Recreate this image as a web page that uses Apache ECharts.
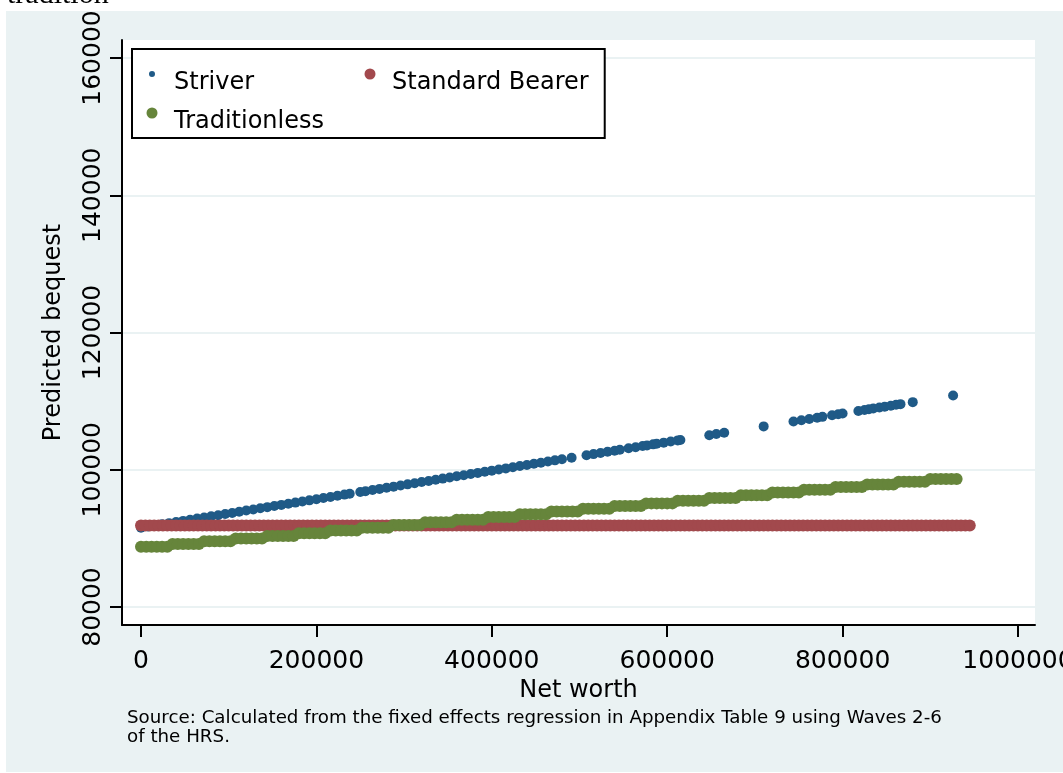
<!DOCTYPE html>
<html>
<head>
<meta charset="utf-8">
<script src="https://cdn.jsdelivr.net/npm/echarts@6/dist/echarts.min.js"></script>
<style>
html, body { margin: 0; padding: 0; background: #fff; }
#main { width: 1063px; height: 773px; }
</style>
</head>
<body>
<div id="main"></div>
<script>
// tick labels
var xTicks = [0, 200000, 400000, 600000, 800000, 1000000];
var yTicks = [80000, 100000, 120000, 140000, 160000];

// Striver
var striverX = [0, 8000, 16000, 24000, 32000, 40000, 48000, 56000, 64000, 72000,
  80000, 88000, 96000, 104000, 112000, 120000, 128000, 136000, 144000, 152000,
  160000, 168000, 176000, 184000, 192000, 200000, 208000, 216000, 224000, 232000,
  238000, 250000,
  256000, 264000, 272000, 280000, 288000, 296000, 304000, 312000, 320000, 328000,
  336000, 344000, 352000, 360000, 368000, 376000, 384000, 392000, 400000, 408000,
  416000, 424000, 432000, 440000, 448000, 456000, 464000, 472000, 480000,
  491000, 508000, 516000, 524000, 532000, 540000, 546000, 556000, 564000, 572000, 577000,
  584000, 588000, 596000, 604000, 612000, 615000, 648000, 656000, 665000, 710000,
  744000, 753000, 762000, 771000, 777000, 788000, 795000, 800000, 818000, 825000,
  830000, 835000, 842000, 848000, 855000, 861000, 866000, 880000, 926000];
var striverY = [91550, 91720, 91880, 92050, 92220, 92380, 92550, 92710, 92880, 93050,
  93210, 93380, 93550, 93710, 93880, 94050, 94210, 94380, 94550, 94710,
  94880, 95040, 95210, 95380, 95540, 95710, 95880, 96040, 96210, 96380,
  96500, 96750,
  96870, 97040, 97210, 97370, 97540, 97710, 97870, 98040, 98210, 98370,
  98540, 98710, 98870, 99040, 99200, 99370, 99540, 99700, 99870, 100040,
  100200, 100370, 100540, 100700, 100870, 101030, 101200, 101370, 101530,
  101760, 102120, 102280, 102450, 102620, 102780, 102910, 103120, 103280, 103450, 103550,
  103700, 103780, 103950, 104110, 104280, 104340, 105030, 105200, 105380, 106320,
  107030, 107210, 107400, 107590, 107710, 107940, 108090, 108190, 108560, 108710,
  108810, 108920, 109060, 109190, 109330, 109460, 109560, 109850, 110810];

// Standard Bearer (flat)
var bearerX = [0, 5000, 10000, 15000, 20000, 25000, 30000, 35000, 40000, 45000,
  50000, 55000, 60000, 65000, 70000, 75000, 80000, 85000, 90000, 95000,
  100000, 105000, 110000, 115000, 120000, 125000, 130000, 135000, 140000, 145000,
  150000, 155000, 160000, 165000, 170000, 175000, 180000, 185000, 190000, 195000,
  200000, 205000, 210000, 215000, 220000, 225000, 230000, 235000, 240000, 245000,
  250000, 255000, 260000, 265000, 270000, 275000, 280000, 285000, 290000, 295000,
  300000, 305000, 310000, 315000, 320000, 325000, 330000, 335000, 340000, 345000,
  350000, 355000, 360000, 365000, 370000, 375000, 380000, 385000, 390000, 395000,
  400000, 405000, 410000, 415000, 420000, 425000, 430000, 435000, 440000, 445000,
  450000, 455000, 460000, 465000, 470000, 475000, 480000, 485000, 490000, 495000,
  500000, 505000, 510000, 515000, 520000, 525000, 530000, 535000, 540000, 545000,
  550000, 555000, 560000, 565000, 570000, 575000, 580000, 585000, 590000, 595000,
  600000, 605000, 610000, 615000, 620000, 625000, 630000, 635000, 640000, 645000,
  650000, 655000, 660000, 665000, 670000, 675000, 680000, 685000, 690000, 695000,
  700000, 705000, 710000, 715000, 720000, 725000, 730000, 735000, 740000, 745000,
  750000, 755000, 760000, 765000, 770000, 775000, 780000, 785000, 790000, 795000,
  800000, 805000, 810000, 815000, 820000, 825000, 830000, 835000, 840000, 845000,
  850000, 855000, 860000, 865000, 870000, 875000, 880000, 885000, 890000, 895000,
  900000, 905000, 910000, 915000, 920000, 925000, 930000, 935000, 940000, 945000];
var bearerY = 91880;

// Traditionless (steps of ~36000 in net worth)
var tradX = [0, 6000, 12000, 18000, 24000, 30000,
  36000, 42000, 48000, 54000, 60000, 66000,
  72000, 78000, 84000, 90000, 96000, 102000,
  108000, 114000, 120000, 126000, 132000, 138000,
  144000, 150000, 156000, 162000, 168000, 174000,
  180000, 186000, 192000, 198000, 204000, 210000,
  216000, 222000, 228000, 234000, 240000, 246000,
  252000, 258000, 264000, 270000, 276000, 282000,
  288000, 294000, 300000, 306000, 312000, 318000,
  324000, 330000, 336000, 342000, 348000, 354000,
  360000, 366000, 372000, 378000, 384000, 390000,
  396000, 402000, 408000, 414000, 420000, 426000,
  432000, 438000, 444000, 450000, 456000, 462000,
  468000, 474000, 480000, 486000, 492000, 498000,
  504000, 510000, 516000, 522000, 528000, 534000,
  540000, 546000, 552000, 558000, 564000, 570000,
  576000, 582000, 588000, 594000, 600000, 606000,
  612000, 618000, 624000, 630000, 636000, 642000,
  648000, 654000, 660000, 666000, 672000, 678000,
  684000, 690000, 696000, 702000, 708000, 714000,
  720000, 726000, 732000, 738000, 744000, 750000,
  756000, 762000, 768000, 774000, 780000, 786000,
  792000, 798000, 804000, 810000, 816000, 822000,
  828000, 834000, 840000, 846000, 852000, 858000,
  864000, 870000, 876000, 882000, 888000, 894000,
  900000, 906000, 912000, 918000, 924000, 930000];
var tradY = [88780, 88780, 88780, 88780, 88780, 88780,
  89175, 89175, 89175, 89175, 89175, 89175,
  89570, 89570, 89570, 89570, 89570, 89570,
  89965, 89965, 89965, 89965, 89965, 89965,
  90360, 90360, 90360, 90360, 90360, 90360,
  90755, 90755, 90755, 90755, 90755, 90755,
  91150, 91150, 91150, 91150, 91150, 91150,
  91545, 91545, 91545, 91545, 91545, 91545,
  91940, 91940, 91940, 91940, 91940, 91940,
  92335, 92335, 92335, 92335, 92335, 92335,
  92730, 92730, 92730, 92730, 92730, 92730,
  93125, 93125, 93125, 93125, 93125, 93125,
  93520, 93520, 93520, 93520, 93520, 93520,
  93915, 93915, 93915, 93915, 93915, 93915,
  94310, 94310, 94310, 94310, 94310, 94310,
  94705, 94705, 94705, 94705, 94705, 94705,
  95100, 95100, 95100, 95100, 95100, 95100,
  95495, 95495, 95495, 95495, 95495, 95495,
  95890, 95890, 95890, 95890, 95890, 95890,
  96285, 96285, 96285, 96285, 96285, 96285,
  96680, 96680, 96680, 96680, 96680, 96680,
  97075, 97075, 97075, 97075, 97075, 97075,
  97470, 97470, 97470, 97470, 97470, 97470,
  97865, 97865, 97865, 97865, 97865, 97865,
  98260, 98260, 98260, 98260, 98260, 98260,
  98655, 98655, 98655, 98655, 98655, 98655];

function pairs(xs, ys) {
  return xs.map(function (x, i) { return [x, Array.isArray(ys) ? ys[i] : ys]; });
}

var font = '"DejaVu Sans"';

var myChart = echarts.init(document.getElementById('main'));
myChart.setOption({
  animation: false,
  graphic: [
    { type: 'rect', z: -10, shape: { x: 6, y: 11, width: 1057, height: 761 },
      style: { fill: '#eaf2f3' } },
    { type: 'text', z: -20, style: { x: 7, y: 10, text: 'tradition', verticalAlign: 'bottom',
      font: '30px "Liberation Serif"', fill: '#000' } },
    { type: 'text', style: { x: 127, y: 709, verticalAlign: 'top', lineHeight: 19,
      text: 'Source: Calculated from the fixed effects regression in Appendix Table 9 using Waves 2-6\nof the HRS.',
      font: '18.25px ' + font, fill: '#000' } }
  ],
  grid: { left: 122, right: 28, top: 40, bottom: 148, show: true, outerBoundsMode: 'none',
    backgroundColor: '#fff', borderWidth: 0 },
  legend: {
    orient: 'vertical', left: 132, top: 49, height: 90,
    padding: [10, 16, 4, 12], itemGap: 3,
    itemWidth: 34, itemHeight: 11,
    borderColor: '#000', borderWidth: 2, backgroundColor: '#fff',
    data: [
      { name: 'Striver', itemStyle: { borderColor: '#fff', borderWidth: 5 } },
      'Traditionless',
      'Standard Bearer'
    ],
    // empty first line pushes the label a little below its marker
    formatter: function (name) { return '{gap| }\n{t|' + name + '}'; },
    textStyle: {
      color: '#000',
      rich: {
        gap: { fontSize: 10, lineHeight: 18 },
        t: { fontFamily: font, fontSize: 24, lineHeight: 20, color: '#000', width: 185 }
      }
    }
  },
  xAxis: {
    type: 'value', min: -21665, max: 1019384,
    name: 'Net worth', nameLocation: 'middle', nameGap: 45,
    nameTextStyle: { fontFamily: font, fontSize: 24, color: '#000' },
    axisLine: { onZero: false, lineStyle: { color: '#000', width: 2 } },
    axisTick: { customValues: xTicks, length: 12, lineStyle: { color: '#000', width: 2 } },
    axisLabel: { customValues: xTicks, margin: 24, fontFamily: font, fontSize: 25, color: '#000',
      formatter: function (v) { return String(v); } },
    splitLine: { show: false }
  },
  yAxis: {
    type: 'value', min: 77377, max: 162623,
    name: 'Predicted bequest', nameLocation: 'middle', nameGap: 56, nameRotate: 90,
    nameTextStyle: { fontFamily: font, fontSize: 24, color: '#000' },
    axisLine: { show: true, onZero: false, lineStyle: { color: '#000', width: 2 } },
    axisTick: { show: true, customValues: yTicks, length: 12, lineStyle: { color: '#000', width: 2 } },
    axisLabel: { customValues: yTicks, rotate: 90, margin: 16, fontFamily: font, fontSize: 25,
      color: '#000', formatter: function (v) { return String(v); } },
    splitLine: { show: true, lineStyle: { color: '#eaf2f3', width: 2 } }
  },
  series: [
    { name: 'Striver', type: 'scatter', symbolSize: 10, data: pairs(striverX, striverY),
      itemStyle: { color: '#1f5a87', opacity: 1 } },
    { name: 'Standard Bearer', type: 'scatter', symbolSize: 12, data: pairs(bearerX, bearerY),
      itemStyle: { color: '#a2494d', opacity: 1 } },
    { name: 'Traditionless', type: 'scatter', symbolSize: 12, data: pairs(tradX, tradY),
      itemStyle: { color: '#66853b', opacity: 1 } }
  ]
});
</script>
</body>
</html>
